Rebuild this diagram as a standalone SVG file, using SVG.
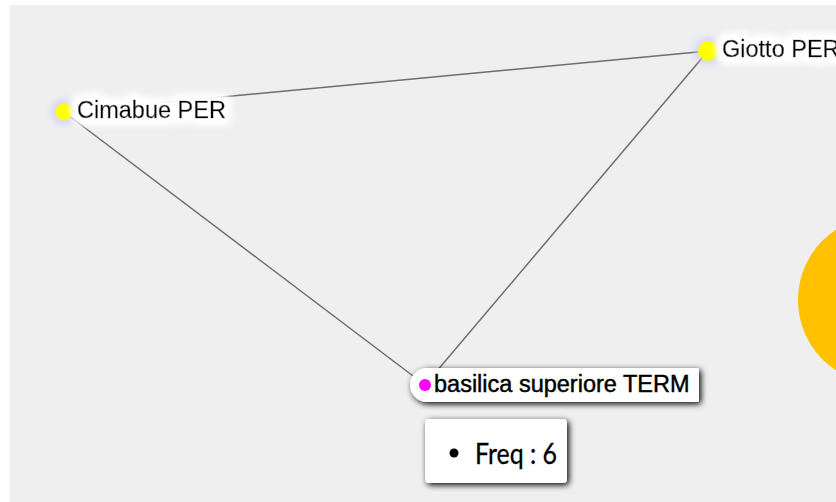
<svg xmlns="http://www.w3.org/2000/svg" width="836" height="502" viewBox="0 0 836 502">
  <defs>
    <style>
      .edge { stroke: #6e6e6e; stroke-width: 1.5; fill: none; }
      .lbl { font-family: "Liberation Sans", Arial, sans-serif; font-size: 23.5px; fill: #000; stroke: #000; stroke-width: 0.45px; }
      .freq { font-family: Lato, "Liberation Sans", sans-serif; font-size: 28px; fill: #000; stroke: #000; stroke-width: 0.3px; }
    </style>
    <filter id="halo" x="-20%" y="-80%" width="140%" height="260%">
      <feMorphology in="SourceAlpha" operator="dilate" radius="4" result="d"/>
      <feGaussianBlur in="d" stdDeviation="4" result="b"/>
      <feFlood flood-color="#ffffff"/>
      <feComposite in2="b" operator="in" result="w"/>
      <feMerge><feMergeNode in="w"/><feMergeNode in="w"/><feMergeNode in="w"/><feMergeNode in="SourceGraphic"/></feMerge>
    </filter>
    <filter id="glow" x="-100%" y="-100%" width="300%" height="300%">
      <feGaussianBlur stdDeviation="3"/>
    </filter>
    <filter id="shadow" x="-10%" y="-50%" width="120%" height="200%">
      <feDropShadow dx="2" dy="2" stdDeviation="3" flood-color="#000" flood-opacity="1"/>
    </filter>
  </defs>
  <rect x="0" y="0" width="836" height="502" fill="#ffffff"/>
  <rect x="10" y="5" width="826" height="497" fill="#efefef"/>
  <circle cx="882" cy="300" r="84" fill="#ffc000"/>

  <g id="connectors">
    <line class="edge" x1="64" y1="112" x2="708" y2="51"/>
    <line class="edge" x1="64" y1="112" x2="425" y2="385"/>
    <line class="edge" x1="708" y1="51" x2="425" y2="385"/>
  </g>

  <g id="node-cimabue">
    <circle cx="64" cy="112" r="13" fill="#c8c8ff" opacity="0.6" filter="url(#glow)"/>
    <circle cx="64" cy="112" r="8.5" fill="#ffff00"/>
    <text class="lbl" x="77" y="118" filter="url(#halo)">Cimabue PER</text>
  </g>

  <g id="node-giotto">
    <circle cx="708" cy="51" r="14" fill="#c8c8ff" opacity="0.6" filter="url(#glow)"/>
    <circle cx="708" cy="51" r="10" fill="#ffff00"/>
    <text class="lbl" x="722" y="57" filter="url(#halo)">Giotto PER</text>
  </g>

  <g id="node-basilica">
    <path d="M427,368 H697 a2,2 0 0 1 2,2 V400 a2,2 0 0 1 -2,2 H427 a17,17 0 0 1 0,-34 Z" fill="#ffffff" filter="url(#shadow)"/>
    <circle cx="425" cy="385" r="6" fill="#ff00ff"/>
    <text class="lbl" x="434" y="392">basilica superiore TERM</text>
  </g>

  <g id="tooltip-freq">
    <rect x="425" y="419" width="142" height="64" rx="4" ry="4" fill="#ffffff" filter="url(#shadow)"/>
    <circle cx="454" cy="453" r="4.5" fill="#000"/>
    <text class="freq" x="475" y="464" textLength="82" lengthAdjust="spacingAndGlyphs">Freq : 6</text>
  </g>
</svg>
